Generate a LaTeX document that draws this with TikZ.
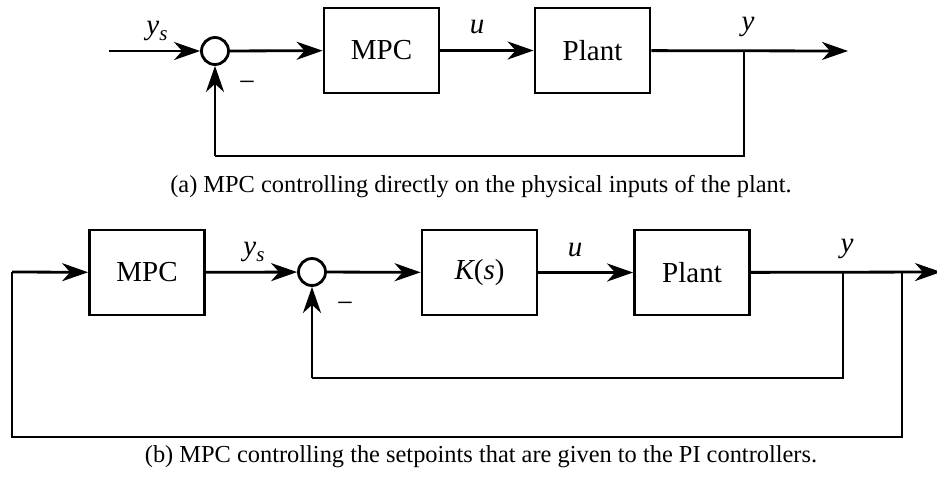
\documentclass[tikz,border=0pt]{standalone}
\usepackage{fontspec}
\setmainfont{Liberation Serif}
\usetikzlibrary{arrows.meta}
\tikzset{
  block/.style={draw, line width=2.8pt, minimum width=115pt, minimum height=85pt, inner sep=0pt, font=\fontsize{29}{32}\selectfont},
  sumnode/.style={draw, circle, line width=2.8pt, minimum size=27pt, inner sep=0pt},
  wire/.style={line width=2.8pt},
  arr/.style={wire, -{Stealth[length=26pt,width=18pt,inset=8pt]}},
  lab/.style={font=\fontsize{29}{32}\selectfont\itshape, inner sep=0pt},
  minuslab/.style={font=\fontsize{29}{32}\selectfont, inner sep=0pt, anchor=base},
  captext/.style={font=\fontsize{24.4}{28}\selectfont, inner sep=0pt}
}
\newcommand{\ysub}{y\raisebox{-0.22em}{\fontsize{21}{21}\selectfont s}}
\begin{document}
\begin{tikzpicture}[x=1pt,y=-1pt]
\useasboundingbox (0,0) rectangle (937,480);
% ---------- (a) ----------
\coordinate (in1) at (109,51);
\node[sumnode] (s1) at (215,51) {};
\node[block] (mpc1) at (381.5,50.5) {MPC};
\node[block] (pl1) at (592.5,50.5) {Plant};
\coordinate (t1) at (744,51);
\coordinate (o1) at (848,51);
\coordinate (b1) at (744,156);
\coordinate (c1) at (215,156);
\draw[arr] (in1) -- (s1);
\draw[arr] (s1) -- (mpc1);
\draw[arr] (mpc1) -- (pl1);
\draw[arr] (pl1) -- (o1);
\draw[wire] (t1) -- (b1) -- (c1);
\draw[arr] (c1) -- (s1);
\node[lab] (ys1) at (157,31) {\ysub};
\node[minuslab] (m1) at (247,91) {−};
\node[lab] (u1) at (477,27) {u};
\node[lab] (y1) at (748,27) {y};
\node[captext] (capa) at (481,187) {(a) MPC controlling directly on the physical inputs of the plant.};
% ---------- (b) ----------
\node[block] (mpc2) at (147,272.5) {MPC};
\node[sumnode] (s2) at (312,272) {};
\node[block] (k2) at (479.5,272.5) {\itshape K\upshape(\itshape s\upshape)};
\node[block] (pl2) at (692,272.5) {Plant};
\coordinate (t2) at (843,272);
\coordinate (t3) at (902,272);
\coordinate (o2) at (941,272);
\coordinate (b2) at (843,378);
\coordinate (c2) at (312,378);
\coordinate (b3) at (902,437);
\coordinate (c3) at (12,437);
\coordinate (d3) at (12,272);
\draw[arr] (mpc2) -- (s2);
\draw[arr] (s2) -- (k2);
\draw[arr] (k2) -- (pl2);
\draw[arr] (pl2) -- (o2);
\draw[wire] (t2) -- (b2) -- (c2);
\draw[arr] (c2) -- (s2);
\draw[wire] (t3) -- (b3) -- (c3) -- (d3);
\draw[arr] (d3) -- (mpc2);
\node[lab] (ys2) at (254,252) {\ysub};
\node[minuslab] (m2) at (345,312) {−};
\node[lab] (u2) at (575,250) {u};
\node[lab] (y2) at (847,249) {y};
\node[captext] (capb) at (481,457) {(b) MPC controlling the setpoints that are given to the PI controllers.};
\end{tikzpicture}
\end{document}
